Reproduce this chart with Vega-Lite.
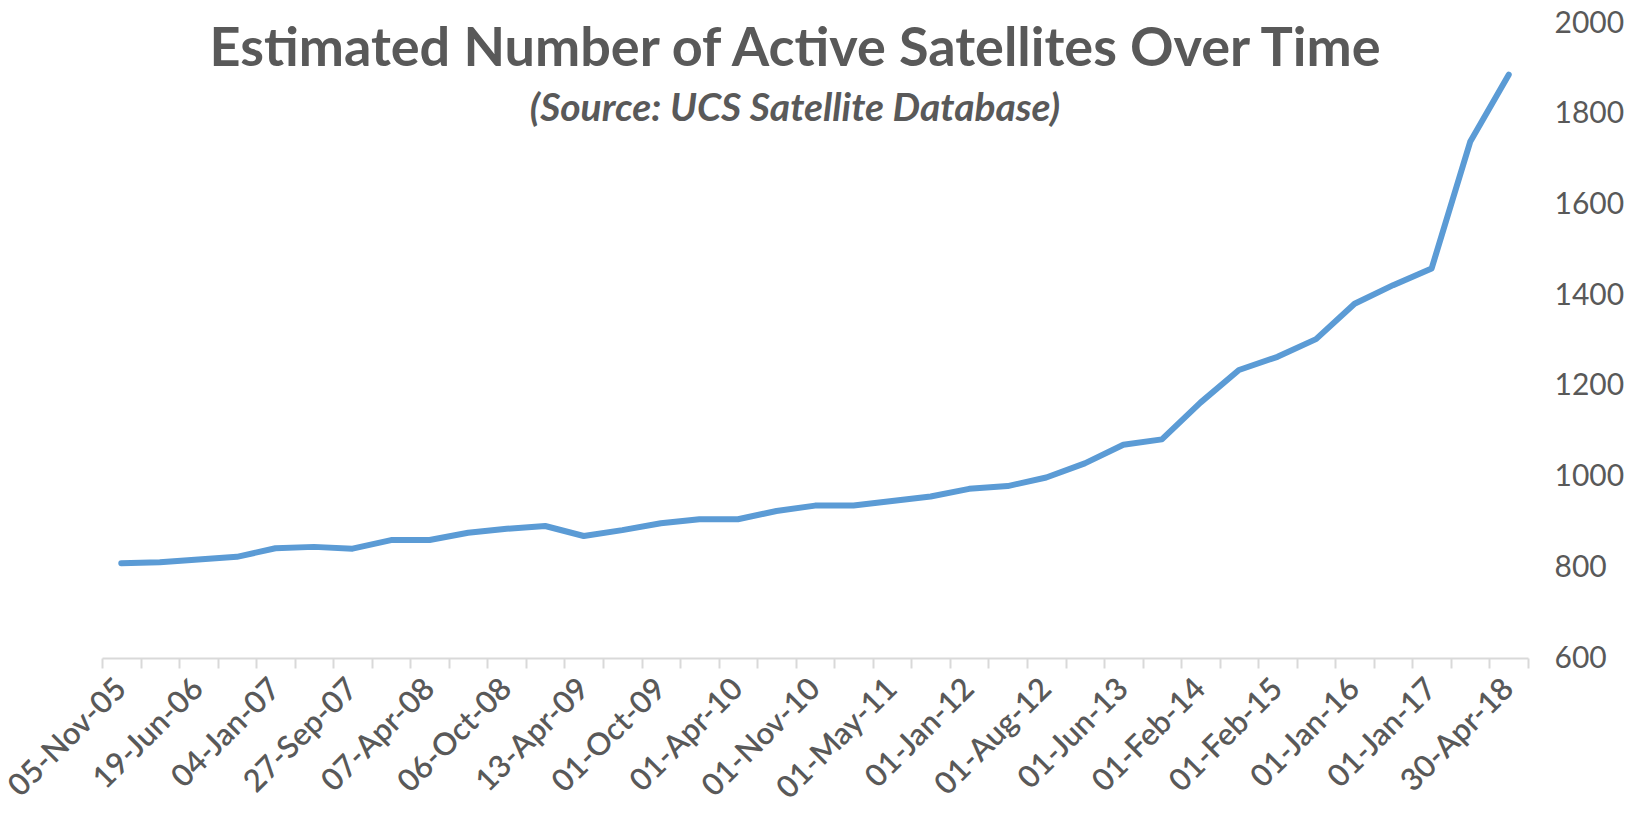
{
  "$schema": "https://vega.github.io/schema/vega-lite/v6.json",
  "width": 1426,
  "height": 635,
  "autosize": "none",
  "padding": {"left": 102, "top": 23, "right": 107, "bottom": 176},
  "background": "white",
  "config": {"view": {"stroke": null}},
  "title": {
    "text": "Estimated Number of Active Satellites Over Time",
    "subtitle": "(Source: UCS Satellite Database)",
    "anchor": "middle",
    "frame": "group",
    "offset": -121,
    "dx": -20,
    "font": "Lato",
    "fontSize": 54,
    "fontWeight": "bold",
    "color": "#595959",
    "subtitleFont": "Lato",
    "subtitleFontSize": 39,
    "subtitleFontStyle": "italic",
    "subtitleFontWeight": "bold",
    "subtitleColor": "#595959",
    "subtitlePadding": 13
  },
  "data": {
    "values": [
      {"date": "05-Nov-05", "active": 809},
      {"date": "01-Jan-06", "active": 811},
      {"date": "19-Jun-06", "active": 817},
      {"date": "02-Oct-06", "active": 823},
      {"date": "04-Jan-07", "active": 842},
      {"date": "01-Apr-07", "active": 845},
      {"date": "27-Sep-07", "active": 841},
      {"date": "01-Jan-08", "active": 860},
      {"date": "07-Apr-08", "active": 860},
      {"date": "15-Jul-08", "active": 876},
      {"date": "06-Oct-08", "active": 885},
      {"date": "01-Jan-09", "active": 891},
      {"date": "13-Apr-09", "active": 869},
      {"date": "01-Jul-09", "active": 882},
      {"date": "01-Oct-09", "active": 897},
      {"date": "01-Jan-10", "active": 906},
      {"date": "01-Apr-10", "active": 906},
      {"date": "01-Jul-10", "active": 924},
      {"date": "01-Nov-10", "active": 936},
      {"date": "01-Feb-11", "active": 936},
      {"date": "01-May-11", "active": 946},
      {"date": "01-Sep-11", "active": 956},
      {"date": "01-Jan-12", "active": 973},
      {"date": "01-May-12", "active": 979},
      {"date": "01-Aug-12", "active": 998},
      {"date": "01-Feb-13", "active": 1029},
      {"date": "01-Jun-13", "active": 1070},
      {"date": "01-Sep-13", "active": 1082},
      {"date": "01-Feb-14", "active": 1163},
      {"date": "31-Aug-14", "active": 1235},
      {"date": "01-Feb-15", "active": 1264},
      {"date": "31-Aug-15", "active": 1303},
      {"date": "01-Jan-16", "active": 1381},
      {"date": "30-Jun-16", "active": 1422},
      {"date": "01-Jan-17", "active": 1459},
      {"date": "31-Aug-17", "active": 1738},
      {"date": "30-Apr-18", "active": 1886}
    ]
  },
  "mark": {"type": "line", "color": "#5B9BD5", "strokeWidth": 6, "strokeCap": "round", "strokeJoin": "round"},
  "encoding": {
    "x": {
      "field": "date",
      "type": "ordinal",
      "sort": null,
      "scale": {"type": "band", "paddingInner": 0, "paddingOuter": 0},
      "axis": {
        "title": null,
        "tickBand": "extent",
        "labelAngle": -45,
        "labelAlign": "right",
        "labelBaseline": "middle",
        "labelFont": "Lato",
        "labelFontSize": 31,
        "labelFontWeight": 600,
        "labelColor": "#595959",
        "labelPadding": 16,
        "labelOverlap": false,
        "labelBound": false,
        "labelExpr": "round(datum.index * 36) % 2 == 0 ? datum.label : ''",
        "domainColor": "#D9D9D9",
        "domainWidth": 2,
        "tickColor": "#D9D9D9",
        "tickWidth": 2,
        "tickSize": 10,
        "grid": false
      }
    },
    "y": {
      "field": "active",
      "type": "quantitative",
      "scale": {"domain": [600, 2000], "nice": false, "zero": false},
      "axis": {
        "orient": "right",
        "title": null,
        "values": [600, 800, 1000, 1200, 1400, 1600, 1800, 2000],
        "format": "d",
        "domain": false,
        "ticks": false,
        "grid": false,
        "labelFont": "Lato",
        "labelFontSize": 30,
        "labelColor": "#595959",
        "labelPadding": 26,
        "labelAlign": "left"
      }
    }
  }
}
